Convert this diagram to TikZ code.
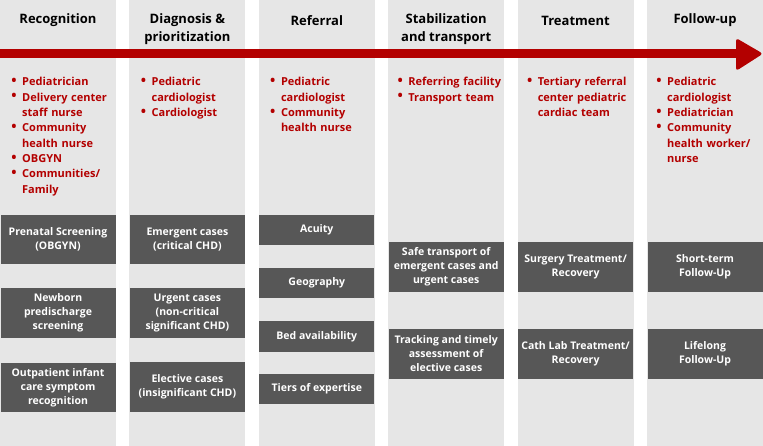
\documentclass[tikz,border=0pt]{standalone}
\usepackage{fontspec}
\setmainfont{Open Sans}
\usepackage{enumitem}
\definecolor{colgray}{HTML}{E6E6E6}
\definecolor{boxgray}{HTML}{575757}
\definecolor{pathred}{HTML}{B30000}
\setlist[itemize]{leftmargin=9pt,labelsep=5.5pt,itemsep=0pt,topsep=0pt,parsep=0pt,partopsep=0pt,
  label=\raisebox{0.3pt}{\fontsize{14}{14}\selectfont\textbullet}}
\begin{document}
\begin{tikzpicture}[x=1pt,y=-1pt,
  phase/.style={font=\fontsize{13}{18}\selectfont\bfseries,align=center,inner sep=0},
  roles/.style={anchor=north west,inner sep=0,text width=103pt,align=left,text=pathred,
    font=\fontsize{11}{15.3}\selectfont\bfseries},
  task/.style={fill=boxgray,text=white,minimum width=115pt,inner sep=0,align=center,
    font=\fontsize{10.5}{14}\selectfont\bfseries}]
\useasboundingbox (0,0) rectangle (763,446);

% columns
\fill[colgray] (0,0) rectangle (116,446);
\fill[colgray] (129.4,0) rectangle (245.4,446);
\fill[colgray] (258.8,0) rectangle (374.8,446);
\fill[colgray] (388.2,0) rectangle (504.2,446);
\fill[colgray] (517.6,0) rectangle (633.6,446);
\fill[colgray] (647,0) rectangle (763,446);

% timeline arrow
\fill[pathred] (0,49.2) rectangle (738,58.2);
\fill[pathred,rounded corners=3pt] (736,38) -- (763,53.7) -- (736,71) -- cycle;

% phase titles
\node[phase] (recog) at (58,20.5) {Recognition};
\node[phase] (diag) at (187.4,29.5) {Diagnosis \&\\prioritization};
\node[phase] (refer) at (316.8,20.5) {Referral};
\node[phase] (stab) at (446.2,29.5) {Stabilization\\and transport};
\node[phase] (treat) at (575.6,20.5) {Treatment};
\node[phase] (follow) at (705,20.5) {Follow-up};

% who is involved
\node[roles] (recogroles) at (13,70.5) {\begin{itemize}
\item Pediatrician
\item Delivery center\\staff nurse
\item Community\\health nurse
\item OBGYN
\item Communities/\\Family
\end{itemize}};
\node[roles] (diagroles) at (142.4,70.5) {\begin{itemize}
\item Pediatric\\cardiologist
\item Cardiologist
\end{itemize}};
\node[roles] (referroles) at (271.8,70.5) {\begin{itemize}
\item Pediatric\\cardiologist
\item Community\\health nurse
\end{itemize}};
\node[roles] (stabroles) at (399.2,70.5) {\begin{itemize}
\item Referring facility
\item Transport team
\end{itemize}};
\node[roles] (treatroles) at (528.6,70.5) {\begin{itemize}
\item Tertiary referral\\center pediatric\\cardiac team
\end{itemize}};
\node[roles] (followroles) at (658,70.5) {\begin{itemize}
\item Pediatric\\cardiologist
\item Pediatrician
\item Community\\health worker/\\nurse
\end{itemize}};

% tasks
\node[task,minimum height=49pt] (prenatal) at (58,239.5) {Prenatal Screening\\(OBGYN)};
\node[task,minimum height=50pt] (newborn) at (58,313) {Newborn\\predischarge\\screening};
\node[task,minimum height=49pt] (outpat) at (58,387.5) {Outpatient infant\\care symptom\\recognition};

\node[task,minimum height=49pt] (emergent) at (187.4,239.5) {Emergent cases\\(critical CHD)};
\node[task,minimum height=50pt] (urgent) at (187.4,313) {Urgent cases\\(non-critical\\significant CHD)};
\node[task,minimum height=50pt] (elective) at (187.4,387) {Elective cases\\(insignificant CHD)};

\node[task,minimum height=30pt] (acuity) at (316.8,230) {Acuity};
\node[task,minimum height=30pt] (geo) at (316.8,283) {Geography};
\node[task,minimum height=30pt] (bed) at (316.8,336.5) {Bed availability};
\node[task,minimum height=30pt] (tiers) at (316.8,389) {Tiers of expertise};

\node[task,minimum height=50pt] (safe) at (446.2,267) {Safe transport of\\emergent cases and\\urgent cases};
\node[task,minimum height=50pt] (tracking) at (446.2,354) {Tracking and timely\\assessment of\\elective cases};

\node[task,minimum height=50pt] (surgery) at (575.6,267) {Surgery Treatment/\\Recovery};
\node[task,minimum height=50pt] (cath) at (575.6,354) {Cath Lab Treatment/\\Recovery};

\node[task,minimum height=50pt] (short) at (705,267) {Short-term\\Follow-Up};
\node[task,minimum height=50pt] (lifelong) at (705,354) {Lifelong\\Follow-Up};

\end{tikzpicture}
\end{document}
